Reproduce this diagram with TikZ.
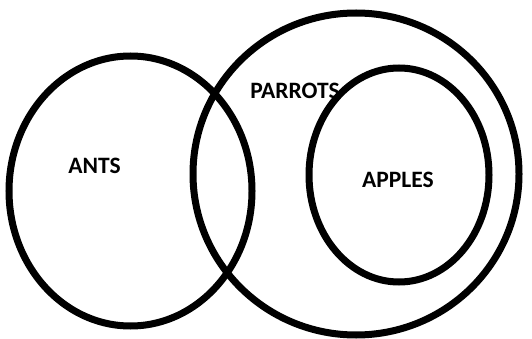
\documentclass[tikz,border=0pt]{standalone}
\usepackage{fontspec}
\setmainfont{Carlito}
\begin{document}
\begin{tikzpicture}[x=1pt,y=-1pt,line width=7pt,
    lbl/.style={font=\bfseries\fontsize{23.5}{28}\selectfont,inner sep=0pt}]
		\useasboundingbox (0,0) rectangle (532,339);
		\path (130.5,191) coordinate (antsC)
		(356,174) coordinate (parrotsC)
		(399,175) coordinate (applesC);
		\draw (antsC) ellipse [x radius=121.5, y radius=135];
		\draw (parrotsC) ellipse [x radius=163, y radius=161];
		\draw (applesC) ellipse [x radius=90, y radius=107];
		\foreach \n/\t/\p in {ants/ANTS/{(94.5,166)},parrots/PARROTS/{(295,91)},apples/APPLES/{(398,180)}}{
		    \node[lbl] (\n) at \p {\t};
		}
\end{tikzpicture}
\end{document}
